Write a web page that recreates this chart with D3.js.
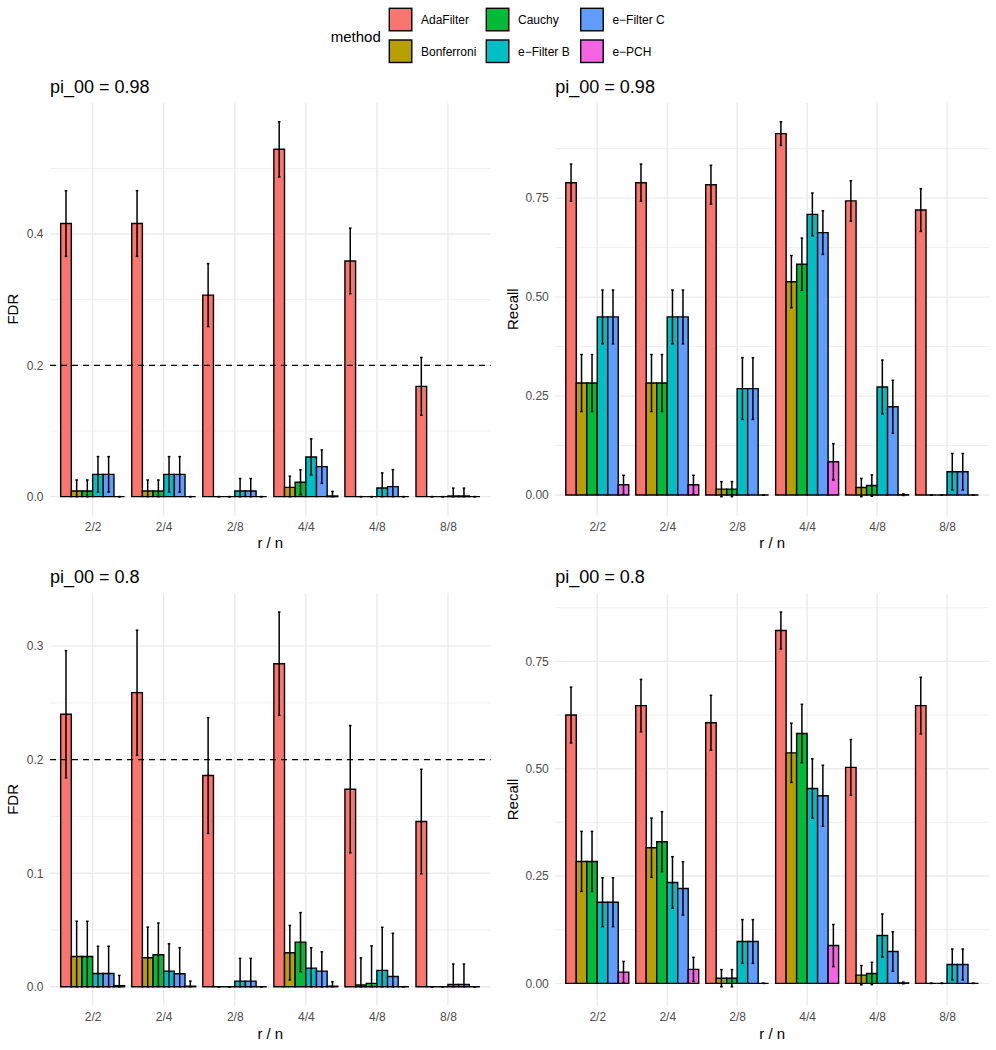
<!DOCTYPE html>
<html>
<head>
<meta charset="utf-8">
<script src="https://cdn.jsdelivr.net/npm/d3@7"></script>
<style>
  body { margin: 0; background: #fff; }
  svg text { font-family: "Liberation Sans", Arial, Helvetica, sans-serif; }
</style>
</head>
<body>
<svg id="chart" width="996" height="1050"></svg>
<script>

var categories = ["2/2", "2/4", "2/8", "4/4", "4/8", "8/8"];
var methods = ["AdaFilter", "Bonferroni", "Cauchy", "e-Filter B", "e-Filter C", "e-PCH"];
var colors = ["#F8766D", "#B79F00", "#00BA38", "#00BFC4", "#619CFF", "#F564E3"];

// rows follow categories, columns follow methods
var fdr98Mean = [
  [0.416, 0.0086, 0.0086, 0.034, 0.034, 0],
  [0.416, 0.0086, 0.0086, 0.034, 0.034, 0],
  [0.307, 0, 0, 0.0086, 0.0086, 0],
  [0.529, 0.0142, 0.0219, 0.0605, 0.0457, 0.001],
  [0.359, 0, 0, 0.0132, 0.0152, 0],
  [0.168, 0, 0, 0.001, 0.001, 0]
];
var fdr98Se = [
  [0.050, 0.0168, 0.0168, 0.027, 0.027, 0],
  [0.050, 0.0168, 0.0168, 0.027, 0.027, 0],
  [0.048, 0, 0, 0.019, 0.019, 0],
  [0.042, 0.017, 0.019, 0.0275, 0.0254, 0.007],
  [0.050, 0, 0, 0.023, 0.026, 0],
  [0.044, 0, 0, 0.012, 0.012, 0]
];

var recall98Mean = [
  [0.789, 0.283, 0.283, 0.450, 0.450, 0.026],
  [0.789, 0.283, 0.283, 0.450, 0.450, 0.026],
  [0.784, 0.015, 0.015, 0.269, 0.269, 0],
  [0.913, 0.539, 0.583, 0.709, 0.663, 0.084],
  [0.743, 0.019, 0.024, 0.273, 0.223, 0.001],
  [0.720, 0, 0, 0.059, 0.059, 0]
];
var recall98Se = [
  [0.047, 0.072, 0.072, 0.068, 0.068, 0.024],
  [0.047, 0.072, 0.072, 0.068, 0.068, 0.024],
  [0.049, 0.019, 0.019, 0.078, 0.078, 0],
  [0.030, 0.066, 0.066, 0.054, 0.055, 0.046],
  [0.051, 0.023, 0.027, 0.068, 0.067, 0.002],
  [0.054, 0, 0, 0.046, 0.046, 0]
];

var fdr80Mean = [
  [0.240, 0.0267, 0.0267, 0.0117, 0.0117, 0.001],
  [0.259, 0.0255, 0.0282, 0.0138, 0.0114, 0.0005],
  [0.186, 0, 0, 0.005, 0.005, 0],
  [0.2845, 0.030, 0.0393, 0.0164, 0.0138, 0.0005],
  [0.174, 0.0015, 0.003, 0.0144, 0.0091, 0],
  [0.1455, 0, 0, 0.002, 0.002, 0]
];
var fdr80Se = [
  [0.056, 0.031, 0.031, 0.024, 0.024, 0.009],
  [0.055, 0.027, 0.028, 0.024, 0.023, 0.0045],
  [0.051, 0, 0, 0.020, 0.020, 0],
  [0.0455, 0.024, 0.026, 0.018, 0.017, 0.004],
  [0.056, 0.024, 0.033, 0.038, 0.038, 0],
  [0.046, 0, 0, 0.018, 0.018, 0]
];

var recall80Mean = [
  [0.625, 0.284, 0.284, 0.189, 0.189, 0.026],
  [0.647, 0.316, 0.330, 0.235, 0.221, 0.0325],
  [0.607, 0.012, 0.012, 0.0975, 0.0975, 0],
  [0.822, 0.537, 0.582, 0.454, 0.437, 0.088],
  [0.503, 0.019, 0.023, 0.1115, 0.074, 0.001],
  [0.647, 0, 0, 0.044, 0.044, 0]
];
var recall80Se = [
  [0.065, 0.070, 0.070, 0.057, 0.057, 0.025],
  [0.061, 0.069, 0.070, 0.060, 0.062, 0.028],
  [0.064, 0.020, 0.020, 0.051, 0.051, 0],
  [0.043, 0.069, 0.068, 0.069, 0.071, 0.049],
  [0.065, 0.0225, 0.026, 0.050, 0.046, 0.002],
  [0.066, 0, 0, 0.036, 0.036, 0]
];

var fdr98Ticks = [0, 0.2, 0.4];
var recallTicks = [0, 0.25, 0.5, 0.75];
var fdr80Ticks = [0, 0.1, 0.2, 0.3];
var fdrTarget = 0.2;

var svg = d3.select("#chart");
var tickGrey = "#4D4D4D", gridGrey = "#EBEBEB";

var panels = [
  {title: "pi_00 = 0.98", yLab: "FDR", mean: fdr98Mean, se: fdr98Se, ticks: fdr98Ticks, fmt: ".1f", hline: true,
   x0: 50, x1: 490.6, y0: 103, y1: 515.4, yLabX: 18},
  {title: "pi_00 = 0.98", yLab: "Recall", mean: recall98Mean, se: recall98Se, ticks: recallTicks, fmt: ".2f", hline: false,
   x0: 555.3, x1: 989, y0: 103, y1: 515.4, yLabX: 517.5},
  {title: "pi_00 = 0.8", yLab: "FDR", mean: fdr80Mean, se: fdr80Se, ticks: fdr80Ticks, fmt: ".1f", hline: true,
   x0: 50, x1: 490.6, y0: 593.3, y1: 1005.5, yLabX: 18},
  {title: "pi_00 = 0.8", yLab: "Recall", mean: recall80Mean, se: recall80Se, ticks: recallTicks, fmt: ".2f", hline: false,
   x0: 555.3, x1: 989, y0: 593.3, y1: 1005.5, yLabX: 517.5}
];

panels.forEach(drawPanel);

function drawPanel(p) {
  var g = svg.append("g");

  var x = d3.scalePoint().domain(categories).range([p.x0, p.x1]).padding(0.6);
  var step = x.step();
  var xm = d3.scaleBand().domain(methods).range([-0.45 * step, 0.45 * step]);

  var rows = [];
  categories.forEach(function(c, i) {
    methods.forEach(function(m, j) {
      var mean = p.mean[i][j], se = p.se[i][j];
      var lo = mean - se;
      if (p.yLab == "FDR") lo = Math.max(0, lo);   // FDR cannot go below zero
      rows.push({c: c, m: m, j: j, mean: mean, lo: lo, hi: mean + se});
    });
  });

  var lo = Math.min(0, d3.min(rows, function(d) { return d.lo; }));
  var hi = d3.max(rows, function(d) { return d.hi; });
  var pad = (hi - lo) * 0.05;
  var y = d3.scaleLinear().domain([lo - pad, hi + pad]).range([p.y1, p.y0]);

  // grid
  var d = p.ticks[1] - p.ticks[0];
  var minor = [p.ticks[0] - d / 2].concat(p.ticks.map(function(t) { return t + d / 2; }))
    .filter(function(t) { return t >= y.domain()[0] && t <= y.domain()[1]; });

  g.selectAll(".minor").data(minor).enter().append("line")
    .attr("x1", p.x0).attr("x2", p.x1)
    .attr("y1", function(t) { return y(t); }).attr("y2", function(t) { return y(t); })
    .attr("stroke", gridGrey).attr("stroke-width", 0.8);

  g.selectAll(".major").data(p.ticks).enter().append("line")
    .attr("x1", p.x0).attr("x2", p.x1)
    .attr("y1", function(t) { return y(t); }).attr("y2", function(t) { return y(t); })
    .attr("stroke", gridGrey).attr("stroke-width", 1.4);

  g.selectAll(".vgrid").data(categories).enter().append("line")
    .attr("x1", function(c) { return x(c); }).attr("x2", function(c) { return x(c); })
    .attr("y1", p.y0).attr("y2", p.y1)
    .attr("stroke", gridGrey).attr("stroke-width", 1.4);

  // bars (path so zero-height bars still show their outline)
  g.selectAll(".bar").data(rows).enter().append("path")
    .attr("d", function(r) {
      var bx = x(r.c) + xm(r.m), bw = xm.bandwidth();
      var y0 = y(0), y1 = y(r.mean);
      return "M" + bx + "," + y0 + "H" + (bx + bw) + "V" + y1 + "H" + bx + "Z";
    })
    .attr("fill", function(r) { return colors[r.j]; })
    .attr("stroke", "#000").attr("stroke-width", 1.4);

  // error bars
  var cap = 1.3;
  var eb = g.selectAll(".err").data(rows).enter().append("g")
    .attr("transform", function(r) { return "translate(" + (x(r.c) + xm(r.m) + xm.bandwidth() / 2) + ",0)"; })
    .attr("stroke", "#000").attr("stroke-width", 1.5);
  eb.append("line").attr("x1", 0).attr("x2", 0)
    .attr("y1", function(r) { return y(r.lo); }).attr("y2", function(r) { return y(r.hi); });
  eb.append("line").attr("x1", -cap).attr("x2", cap)
    .attr("y1", function(r) { return y(r.lo); }).attr("y2", function(r) { return y(r.lo); });
  eb.append("line").attr("x1", -cap).attr("x2", cap)
    .attr("y1", function(r) { return y(r.hi); }).attr("y2", function(r) { return y(r.hi); });

  if (p.hline) {
    g.append("line")
      .attr("x1", p.x0).attr("x2", p.x1)
      .attr("y1", y(fdrTarget)).attr("y2", y(fdrTarget))
      .attr("stroke", "#000").attr("stroke-width", 1.4)
      .attr("stroke-dasharray", "6,5");
  }

  // axes
  var ya = g.append("g").attr("transform", "translate(" + p.x0 + ",0)")
    .call(d3.axisLeft(y).tickValues(p.ticks).tickFormat(d3.format(p.fmt)).tickSize(0).tickPadding(6.5));
  ya.select(".domain").remove();
  ya.selectAll("text").attr("fill", tickGrey).style("font-size", "12px");

  var xa = g.append("g").attr("transform", "translate(0," + p.y1 + ")")
    .call(d3.axisBottom(x).tickSize(0).tickPadding(7.3));
  xa.select(".domain").remove();
  xa.selectAll("text").attr("fill", tickGrey).style("font-size", "12px");

  g.append("text")
    .attr("x", (p.x0 + p.x1) / 2).attr("y", p.y1 + 33)
    .attr("text-anchor", "middle").style("font-size", "15px")
    .text("r / n");

  g.append("text")
    .attr("transform", "translate(" + p.yLabX + "," + ((p.y0 + p.y1) / 2) + ") rotate(-90)")
    .attr("text-anchor", "middle").style("font-size", "15px")
    .text(p.yLab);

  g.append("text")
    .attr("x", p.x0).attr("y", p.y0 - 10.5)
    .style("font-size", "18px")
    .text(p.title);
}

// legend: two rows, filled column by column
var legend = svg.append("g");
legend.append("text").attr("x", 330.7).attr("y", 42).style("font-size", "15px").text("method");

var colX = [389.3, 486.3, 580.7];
var rowY = [8.3, 40];
methods.forEach(function(m, i) {
  var cx = colX[Math.floor(i / 2)], cy = rowY[i % 2];
  legend.append("rect")
    .attr("x", cx).attr("y", cy).attr("width", 22.5).attr("height", 22.5)
    .attr("fill", colors[i]).attr("stroke", "#000").attr("stroke-width", 1.4);
  legend.append("text")
    .attr("x", cx + 31.7).attr("y", cy + 15.6)
    .style("font-size", "12px")
    .text(m.replace("-", "\u2212"));
});

</script>
</body>
</html>
